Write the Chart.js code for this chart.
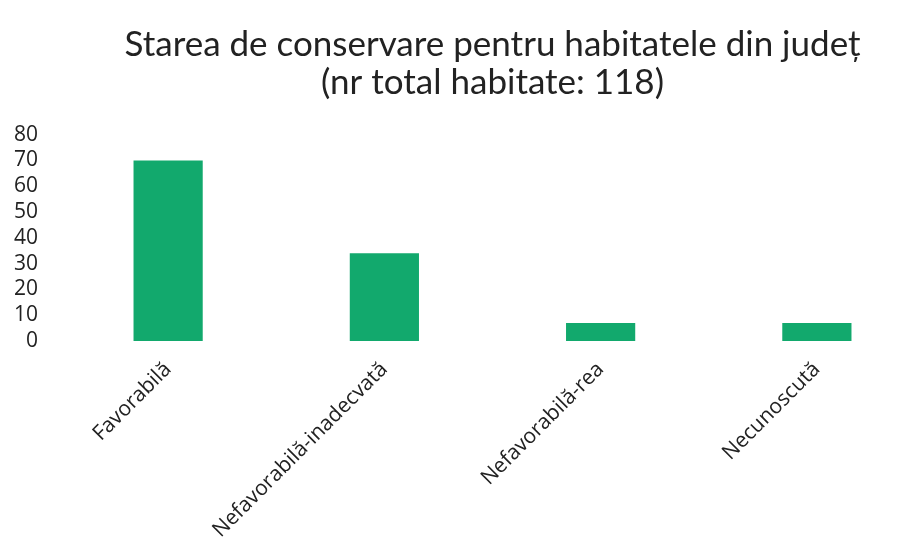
<!DOCTYPE html>
<html><head><meta charset="utf-8">
<script src="https://cdn.jsdelivr.net/npm/chart.js@4/dist/chart.umd.min.js"></script>
<style>html,body{margin:0;padding:0;background:#fff;overflow:hidden}#wrap{width:980px;height:539px}</style>
</head><body><div id="wrap"><canvas id="c" width="980" height="539"></canvas></div>
<script>
const categories = ["Favorabilă", "Nefavorabilă-inadecvată", "Nefavorabilă-rea", "Necunoscută"];
const values = [70, 34, 7, 7];
const titleLines = ["Starea de conservare pentru habitatele din județ", "(nr total habitate: 118)"];
const yTicks = [0, 10, 20, 30, 40, 50, 60, 70, 80];

new Chart(document.getElementById('c'), {
  type: 'bar',
  data: { labels: categories, datasets: [{ data: values, backgroundColor: '#12a96d', borderWidth: 0, barPercentage: 0.32, categoryPercentage: 1 }] },
  options: {
    responsive: false, animation: false,
    layout: { padding: { left: 0, right: 55, top: 10, bottom: 0 } },
    plugins: {
      legend: { display: false }, tooltip: { enabled: false },
      title: { display: true, fullSize: false, text: titleLines, color: '#222', font: { family: 'Lato', size: 35, weight: 'normal', lineHeight: 1.08 }, padding: { top: 16, bottom: 33 } }
    },
    scales: {
      y: {
        min: 0, max: 80,
        afterBuildTicks: s => { s.ticks = yTicks.map(v => ({ value: v })); },
        afterFit: s => { s.width = 60; },
        grid: { display: false, drawTicks: false }, border: { display: false },
        ticks: { color: '#222', font: { family: 'Open Sans', size: 21, lineHeight: 1 }, padding: 22, autoSkip: false, stepSize: 10 }
      },
      x: {
        afterFit: s => { s.height = 198; },
        grid: { display: false, drawTicks: false }, border: { display: false },
        ticks: { color: '#222', font: { family: 'Open Sans', size: 21 }, minRotation: 45, maxRotation: 45, padding: 16, autoSkip: false }
      }
    }
  }
});
</script></body></html>
